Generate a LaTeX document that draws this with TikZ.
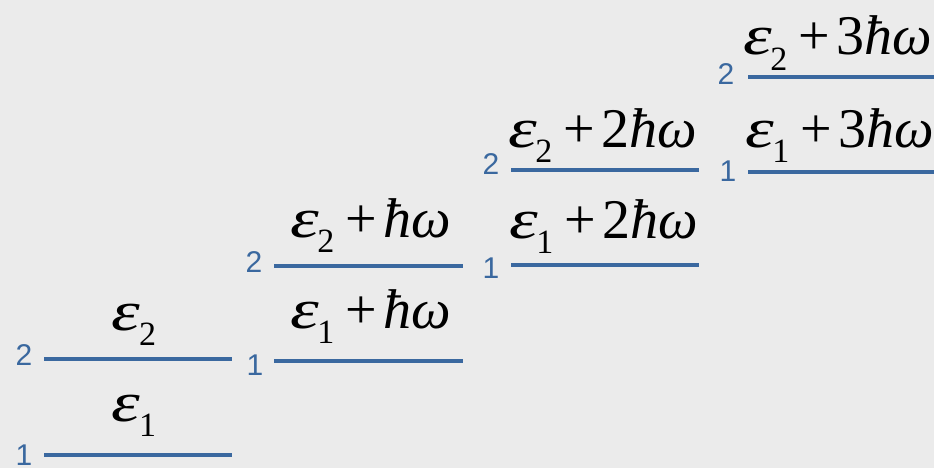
\documentclass[tikz,border=0pt]{standalone}
\usepackage{fontspec}
\setmainfont{Liberation Serif}
\newfontfamily\labfont{Liberation Sans}
\definecolor{bg}{HTML}{EBEBEB}
\definecolor{lvl}{HTML}{3A689F}
\newcommand\eps[2]{{\itshape\scalebox{1.3}[1]{ε}}\kern-0.03em\raisebox{-0.27em}{\fontsize{34}{36}\selectfont #1}#2}
\newcommand\plw[1]{\kern0.2em+\kern0.12em#1{\itshape ħω}}
\begin{document}
\begin{tikzpicture}[x=1pt,y=-1pt,
  lev/.style={draw=lvl, line width=3.5pt},
  en/.style={anchor=base, inner sep=0pt, font=\fontsize{56}{60}\selectfont},
  num/.style={anchor=base, inner sep=0pt, text=lvl, font=\labfont\fontsize{30}{32}\selectfont}]
\fill[bg] (0,0) rectangle (934,468);
\useasboundingbox (0,0) rectangle (934,468);
% column 1
\coordinate (a1w) at (44,455); \coordinate (a1e) at (232,455);
\coordinate (a2w) at (44,359); \coordinate (a2e) at (232,359);
\draw[lev] (a1w) -- (a1e);
\draw[lev] (a2w) -- (a2e);
\node[num] (na1) at (24,465) {1};
\node[num] (na2) at (24,365) {2};
\node[en] (ta1) at (134,421) {\eps{1}{}};
\node[en] (ta2) at (134,330) {\eps{2}{}};
% column 2
\coordinate (b1w) at (274,361); \coordinate (b1e) at (463,361);
\coordinate (b2w) at (274,266); \coordinate (b2e) at (463,266);
\draw[lev] (b1w) -- (b1e);
\draw[lev] (b2w) -- (b2e);
\node[num] (nb1) at (255,375) {1};
\node[num] (nb2) at (254,272) {2};
\node[en] (tb1) at (371,328) {\eps{1}{\plw{}}};
\node[en] (tb2) at (371,237) {\eps{2}{\plw{}}};
% column 3
\coordinate (c1w) at (511,265); \coordinate (c1e) at (699,265);
\coordinate (c2w) at (511,170); \coordinate (c2e) at (699,170);
\draw[lev] (c1w) -- (c1e);
\draw[lev] (c2w) -- (c2e);
\node[num] (nc1) at (491,278) {1};
\node[num] (nc2) at (491,175) {2};
\node[en] (tc1) at (604,238) {\eps{1}{\plw{2}}};
\node[en] (tc2) at (603,147) {\eps{2}{\plw{2}}};
% column 4
\coordinate (d1w) at (748,172); \coordinate (d1e) at (934,172);
\coordinate (d2w) at (748,77); \coordinate (d2e) at (934,77);
\draw[lev] (d1w) -- (d1e);
\draw[lev] (d2w) -- (d2e);
\node[num] (nd1) at (728,181) {1};
\node[num] (nd2) at (726,85) {2};
\node[en] (td1) at (840,147) {\eps{1}{\plw{3}}};
\node[en] (td2) at (838,55) {\eps{2}{\plw{3}}};
\end{tikzpicture}
\end{document}
